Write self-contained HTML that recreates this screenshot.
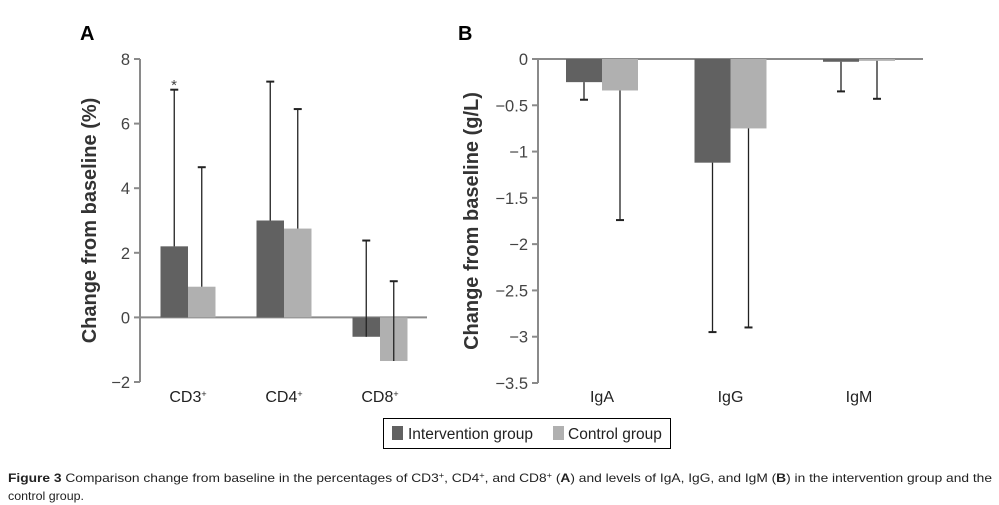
<!DOCTYPE html>
<html><head><meta charset="utf-8"><style>
html,body{margin:0;padding:0;background:#fff;}
svg{display:block;font-family:"Liberation Sans",sans-serif;}
</style></head><body>
<svg id="fig" width="999" height="505" viewBox="0 0 999 505">
<text x="80" y="40" font-size="20" font-weight="bold">A</text>
<text x="458" y="40" font-size="20" font-weight="bold">B</text>
<g id="ga"></g>
<g id="gb"></g>
<g>
<rect x="383.5" y="418.5" width="287" height="30" fill="#fff" stroke="#000" stroke-width="1"/>
<rect x="392" y="426" width="11" height="14" fill="#616161"/>
<text x="408" y="439" font-size="15.5" fill="#222">Intervention group</text>
<rect x="553" y="426" width="11" height="14" fill="#b0b0b0"/>
<text x="568" y="439" font-size="15.5" fill="#222">Control group</text>
</g>
<text x="8" y="482" font-size="12" fill="#222" textLength="984" lengthAdjust="spacingAndGlyphs"><tspan font-weight="bold">Figure 3</tspan> Comparison change from baseline in the percentages of CD3<tspan font-size="8" dy="-4">+</tspan><tspan dy="4">, CD4</tspan><tspan font-size="8" dy="-4">+</tspan><tspan dy="4">, and CD8</tspan><tspan font-size="8" dy="-4">+</tspan><tspan dy="4"> (</tspan><tspan font-weight="bold">A</tspan>) and levels of IgA, IgG, and IgM (<tspan font-weight="bold">B</tspan>) in the intervention group and the</text>
<text x="8" y="500" font-size="12" fill="#222" textLength="76" lengthAdjust="spacingAndGlyphs">control group.</text>
</svg>
<script>
// Panel A data
const catsA = ["CD3", "CD4", "CD8"];
const interA = [2.2, 3.0, -0.6];
const controlA = [0.95, 2.75, -1.35];
const interErrA = [7.05, 7.3, 2.38];
const controlErrA = [4.65, 6.45, 1.12];
const ticksA = [-2, 0, 2, 4, 6, 8];
// Panel B data
const catsB = ["IgA", "IgG", "IgM"];
const interB = [-0.25, -1.12, -0.03];
const controlB = [-0.34, -0.75, -0.02];
const interErrB = [-0.44, -2.95, -0.35];
const controlErrB = [-1.74, -2.90, -0.43];
const ticksB = [0, -0.5, -1, -1.5, -2, -2.5, -3, -3.5];
const ticksBLabels = ["0", "\u22120.5", "\u22121", "\u22121.5", "\u22122", "\u22122.5", "\u22123", "\u22123.5"];

const NS = "http://www.w3.org/2000/svg";
function mk(parent, tag, attrs) {
  const e = document.createElementNS(NS, tag);
  for (const k in attrs) e.setAttribute(k, attrs[k]);
  parent.appendChild(e);
  return e;
}

function draw(g, cfg) {
  const y = v => cfg.y0 + (v - cfg.vmin) / (cfg.vmax - cfg.vmin) * (cfg.y1 - cfg.y0);
  const x = i => cfg.xStart + i * cfg.step;
  const ax = mk(g, "line", {x1: cfg.ax, x2: cfg.ax, y1: y(cfg.vmin), y2: y(cfg.vmax), stroke: "#8a8a8a", "stroke-width": 2});
  
  
  cfg.ticks.forEach((t, i) => {
    const tk = mk(g, "line", {x1: cfg.ax - 6, x2: cfg.ax, y1: y(t), y2: y(t), stroke: "#8a8a8a", "stroke-width": 2});
    
    
    const tl = mk(g, "text", {x: cfg.ax - 10, y: y(t) + 6, "font-size": 16.5, "text-anchor": "end", fill: "#444"});
    tl.textContent = cfg.tickLabels[i];
    
    
  });
  const zl = mk(g, "line", {x1: cfg.ax, x2: cfg.axEnd, y1: y(0), y2: y(0), stroke: "#8a8a8a", "stroke-width": 2});
  
  
  const cy = (y(cfg.vmin) + y(cfg.vmax)) / 2;
  const tt = mk(g, "text", {x: cfg.titleX, y: cy, "font-size": 20, "font-weight": "bold", "text-anchor": "middle", fill: "#333", transform: `rotate(-90 ${cfg.titleX} ${cy})`});
  tt.textContent = cfg.title;
  
  
  const series = [[cfg.inter, cfg.interErr, "#616161"], [cfg.control, cfg.controlErr, "#b0b0b0"]];
  cfg.cats.forEach((c, i) => {
    const cx = x(i);
    series.forEach((s, j) => {
      const v = s[0][i], e = s[1][i];
      const bx = cx - cfg.bw + j * cfg.bw;
      const r = mk(g, "rect", {x: bx, y: Math.min(y(v), y(0)), width: cfg.bw, height: Math.abs(y(v) - y(0)), fill: s[2]});
      
      
      const mx = bx + cfg.bw / 2;
      const el = mk(g, "line", {x1: mx, x2: mx, y1: y(v), y2: y(e), stroke: "#222", "stroke-width": 1.3});
      
      
      const cap = mk(g, "line", {x1: mx - 4, x2: mx + 4, y1: y(e), y2: y(e), stroke: "#222", "stroke-width": 2});
      
      
    });
    const lbl = mk(g, "text", {x: cx, y: cfg.labelY, "font-size": 16, "text-anchor": "middle", fill: "#222"});
    lbl.textContent = c;
    if (cfg.sup) {
      const sp = mk(lbl, "tspan", {"font-size": 9, dy: -5});
      sp.textContent = "+";
    }
    
    
  });
}

const ga = document.getElementById("ga");
draw(ga, {cats: catsA, inter: interA, control: controlA, interErr: interErrA, controlErr: controlErrA,
  ticks: ticksA, tickLabels: ticksA.map(t => t < 0 ? "\u2212" + (-t) : "" + t),
  vmin: -2, vmax: 8, y0: 382, y1: 59, ax: 140, axEnd: 427, xStart: 188, step: 96, bw: 27.5,
  title: "Change from baseline (%)", titleX: 96, labelY: 402, sup: true});
const star = document.createElementNS(NS, "text");
star.setAttribute("x", 174); star.setAttribute("y", 90); star.setAttribute("font-size", 15);
star.setAttribute("text-anchor", "middle"); star.setAttribute("fill", "#444");
star.textContent = "*";


ga.appendChild(star);

draw(document.getElementById("gb"), {cats: catsB, inter: interB, control: controlB, interErr: interErrB, controlErr: controlErrB,
  ticks: ticksB, tickLabels: ticksBLabels,
  vmin: -3.5, vmax: 0, y0: 383, y1: 59, ax: 538, axEnd: 923, xStart: 602, step: 128.5, bw: 36,
  title: "Change from baseline (g/L)", titleX: 478, labelY: 402, sup: false});
</script>
</body></html>
